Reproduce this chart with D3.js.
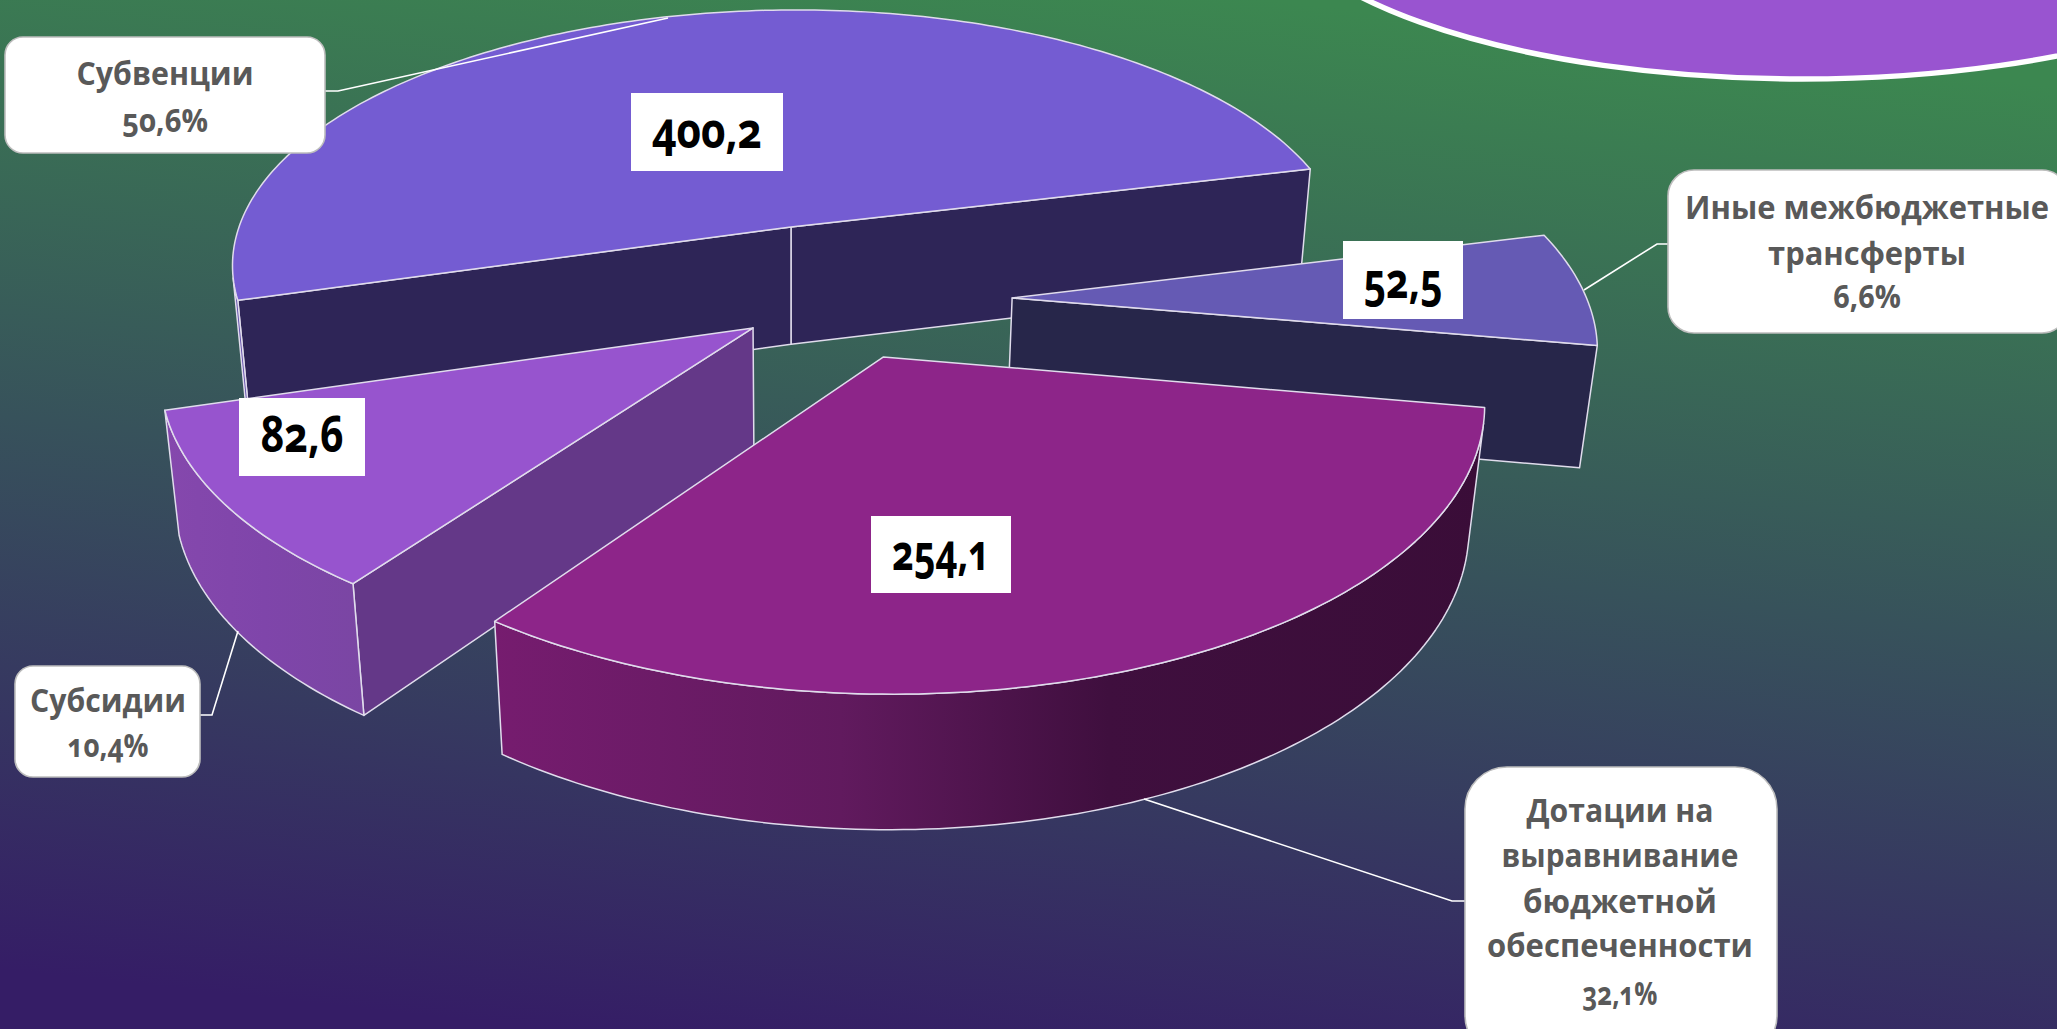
<!DOCTYPE html>
<html><head><meta charset="utf-8">
<script src="https://cdn.jsdelivr.net/npm/d3@7/dist/d3.min.js"></script>
<style>html,body{margin:0;padding:0;overflow:hidden;background:#333}svg{display:block}
text{font-family:"Open Sans","Noto Sans",sans-serif;font-weight:700;font-variant-numeric:oldstyle-nums;font-feature-settings:"onum" 1}</style>
</head><body><div id="c"></div>
<script>
const categories = ["Субвенции","Субсидии","Дотации на выравнивание бюджетной обеспеченности","Иные межбюджетные трансферты"];
const values = [400.2,82.6,254.1,52.5];
const valueLabels = ["400,2","82,6","254,1","52,5"];
const percentLabels = ["50,6%","10,4%","32,1%","6,6%"];

// ---- styling and layout (not data)
const W=2057,H=1029;
const topColors=["#745cd2","#9754ce","#8d2589","#655ab4"];
const faceColors=["#2e2557","#643888","#4a1450","#27264a"];
const wallStops=[
  [["0","#5d4aa8"],["1","#5d4aa8"]],
  [["0","#8548ad"],["0.5","#7f45aa"],["1","#7a46a3"]],
  [["0","#761c6f"],["0.35","#611a5e"],["0.62","#3f0f3e"],["1","#3a0d38"]],
  [["0","#27264a"],["1","#27264a"]]
];
const explode=[[0,0],[-0.065,0.385],[0.156,0.488],[0.385,0.275]];
const drawOrder=[0,3,1,2];
const startDeg=14;
// projection parameters of the tilted pie
const P={x0:791,S:552,c:-6,Q:1750,yh:-1523,p:0.1416,yV:5900,e:0.0211};
const boxes=[
 {x:5,y:37,w:320,h:116,r:18,lines:[["Субвенции",165,85,177],[percentLabels[0],165,132,86]],lead:[[325,91],[338,91],[668,18]]},
 {x:15,y:666,w:185,h:111,r:18,lines:[["Субсидии",108,712,156],[percentLabels[1],108,757,81]],lead:[[200,715],[212,715],[238,631]]},
 {x:1465,y:767,w:312,h:290,r:42,lines:[["Дотации на",1620,822,187],["выравнивание",1620,867,237],["бюджетной",1620,913,194],["обеспеченности",1620,957,266],[percentLabels[2],1620,1005,75]],lead:[[1465,901],[1452,901],[1144,799]]},
 {x:1668,y:170,w:400,h:163,r:26,lines:[["Иные межбюджетные",1867,219,364],["трансферты",1867,265,198],[percentLabels[3],1867,308,68]],lead:[[1668,244],[1657,244],[1584,290]]}
];
const valueBoxes=[
 {x:631,y:93,w:152,h:78,tx:707,ty:148,tw:110},
 {x:239,y:398,w:126,h:78,tx:302,ty:452,tw:83},
 {x:871,y:516,w:140,h:77,tx:941,ty:570,tw:98},
 {x:1343,y:241,w:120,h:78,tx:1403,ty:298,tw:79}
];

const svg=d3.select("#c").append("svg").attr("width",W).attr("height",H);
const defs=svg.append("defs");
const bg=defs.append("linearGradient").attr("id","bg").attr("gradientUnits","userSpaceOnUse")
  .attr("x1",1085).attr("y1",-20).attr("x2",965).attr("y2",1075);
[["0","#3c8750"],["0.5","#37525b"],["1","#351d66"]].forEach(s=>bg.append("stop").attr("offset",s[0]).attr("stop-color",s[1]));
svg.append("rect").attr("width",W).attr("height",H).attr("fill","url(#bg)");
svg.append("ellipse").attr("cx",1802).attr("cy",-115).attr("rx",540).attr("ry",194)
  .attr("fill","#9954d0").attr("stroke","#fff").attr("stroke-width",5.5);

function proj(u,v){const w=1-P.p*v;return {x:P.x0+(P.S*u+P.c*v)/w,y:P.yh+P.Q/w,w};}
function drop(q){const t=P.e/(q.w+P.e);return {x:q.x+t*(P.x0-q.x),y:q.y+t*(P.yV-q.y)};}
const xy=q=>[q.x,q.y];
const line=d3.line();
const closed=pts=>line(pts)+"Z";
const area=pts=>d3.polygonArea(pts)*-1;

const pie=d3.pie().sort(null).value(d=>d)(values);
const gSl=svg.append("g").attr("stroke","#e0dcec").attr("stroke-width",1.5).attr("stroke-linejoin","round");

drawOrder.forEach(i=>{
  const d=pie[i],e=explode[i];
  const a0=startDeg*Math.PI/180+d.startAngle,a1=startDeg*Math.PI/180+d.endAngle;
  const ux=e[0]-P.c*e[1]/P.S;
  const apex=proj(ux,e[1]);
  const pt=a=>proj(ux+Math.cos(a),e[1]-Math.sin(a));
  const steps=Math.ceil((a1-a0)/(Math.PI/180));
  const ts=d3.range(steps+1).map(k=>a0+(a1-a0)*k/steps);
  const topArc=ts.map(pt), botArc=topArc.map(drop);

  [[apex,topArc[0]],[topArc[steps],apex]].forEach(([A,B])=>{
    const quad=[xy(A),xy(B),xy(drop(B)),xy(drop(A))];
    if(area(quad)>0) gSl.append("path").attr("d",closed(quad)).attr("fill",faceColors[i]);
  });
  const gid="wall"+i;
  const xs=topArc.map(q=>q.x).concat(botArc.map(q=>q.x));
  const visible=d3.range(steps).map(k=>area([xy(topArc[k]),xy(topArc[k+1]),xy(botArc[k+1]),xy(botArc[k])])>0);
  const g=defs.append("linearGradient").attr("id",gid).attr("gradientUnits","userSpaceOnUse")
     .attr("x1",d3.min(xs)).attr("x2",d3.max(xs)).attr("y1",0).attr("y2",0);
  wallStops[i].forEach(s=>g.append("stop").attr("offset",s[0]).attr("stop-color",s[1]));
  let k=0;
  while(k<steps){
    if(!visible[k]){k++;continue;}
    let m=k;while(m<steps&&visible[m])m++;
    const poly=topArc.slice(k,m+1).map(xy).concat(botArc.slice(k,m+1).reverse().map(xy));
    gSl.append("path").attr("d",closed(poly)).attr("fill","url(#"+gid+")");
    k=m;
  }
  gSl.append("path").attr("d",closed([xy(apex)].concat(topArc.map(xy)))).attr("fill",topColors[i]);
});

// text squeezed horizontally to the reference's width, keeping the glyph height
function fitted(str,x,y,width,size,fill){
  const t=svg.append("text").attr("text-anchor","middle").attr("font-size",size).attr("fill",fill).text(str);
  const natural=t.node().getComputedTextLength();
  t.attr("transform",`translate(${x},${y}) scale(${width/natural},1)`);
  return t;
}
boxes.forEach(b=>{
  svg.append("path").attr("d",line(b.lead)).attr("fill","none").attr("stroke","#fff").attr("stroke-width",1.6);
});
boxes.forEach(b=>{
  svg.append("rect").attr("x",b.x).attr("y",b.y).attr("width",b.w).attr("height",b.h).attr("rx",b.r)
    .attr("fill","#fff").attr("stroke","#bdbdbd").attr("stroke-width",1.6);
  b.lines.forEach(l=>{
    const pct=percentLabels.includes(l[0]);
    fitted(l[0],l[1],l[2],l[3],pct?32:33,"#595959");
  });
});
valueBoxes.forEach((b,i)=>{
  svg.append("rect").attr("x",b.x).attr("y",b.y).attr("width",b.w).attr("height",b.h).attr("fill","#fff");
  fitted(valueLabels[i],b.tx,b.ty,b.tw,50,"#000");
});
</script></body></html>
